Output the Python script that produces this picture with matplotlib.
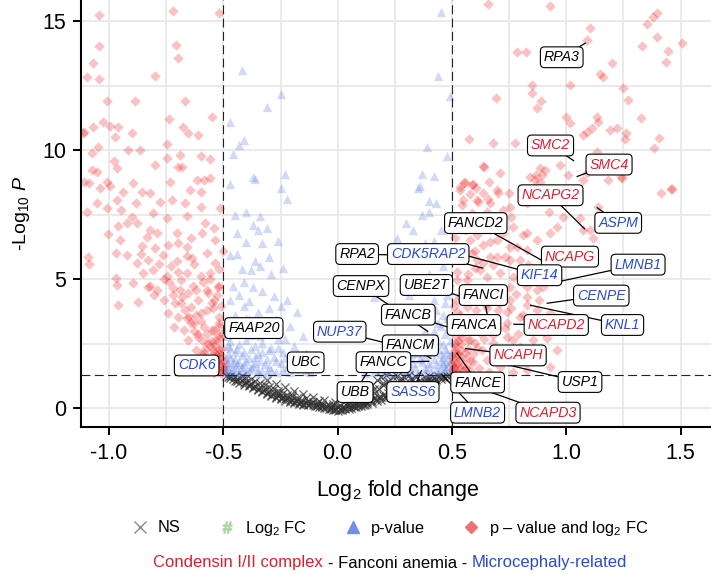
import matplotlib

matplotlib.use("Agg")
import matplotlib.pyplot as plt
from matplotlib.lines import Line2D
from matplotlib.offsetbox import AnchoredOffsetbox, HPacker, TextArea

plt.rcParams["font.family"] = ["Liberation Sans", "DejaVu Sans"]
plt.rcParams["mathtext.fontset"] = "custom"
plt.rcParams["mathtext.rm"] = "Liberation Sans"
plt.rcParams["mathtext.it"] = "Liberation Sans:italic"
plt.rcParams["axes.unicode_minus"] = False

FC_CUTOFF = 0.5
P_CUTOFF = 1.30103  # -log10(0.05)

# not significant (log2FC, -log10 P)
ns_points = [
    (-0.49, 1.27), (-0.48, 1.20), (-0.47, 1.25), (-0.46, 1.12), (-0.45, 1.05), (-0.45, 1.22),
    (-0.44, 1.15), (-0.43, 0.98), (-0.42, 1.08), (-0.42, 1.25), (-0.41, 0.92), (-0.40, 1.02),
    (-0.40, 1.18), (-0.39, 0.85), (-0.38, 0.96), (-0.38, 1.12), (-0.37, 0.78), (-0.36, 0.88),
    (-0.36, 1.05), (-0.35, 0.70), (-0.34, 0.82), (-0.34, 0.98), (-0.33, 0.62), (-0.32, 0.74),
    (-0.32, 0.90), (-0.31, 1.08), (-0.31, 0.55), (-0.30, 0.66), (-0.30, 0.82), (-0.29, 0.48),
    (-0.28, 0.58), (-0.28, 0.74), (-0.27, 0.95), (-0.27, 0.40), (-0.26, 0.51), (-0.26, 0.66),
    (-0.25, 0.35), (-0.24, 0.44), (-0.24, 0.58), (-0.23, 0.82), (-0.23, 0.30), (-0.22, 0.38),
    (-0.22, 0.51), (-0.21, 0.25), (-0.20, 0.33), (-0.20, 0.45), (-0.19, 0.68), (-0.19, 0.21),
    (-0.18, 0.28), (-0.18, 0.40), (-0.17, 0.17), (-0.16, 0.24), (-0.16, 0.34), (-0.15, 0.55),
    (-0.15, 0.14), (-0.14, 0.20), (-0.13, 0.29), (-0.13, 0.11), (-0.12, 0.17), (-0.11, 0.24),
    (-0.11, 0.44), (-0.10, 0.08), (-0.09, 0.14), (-0.09, 0.20), (-0.08, 0.04), (-0.07, 0.10),
    (-0.07, 0.17), (-0.06, 0.34), (-0.06, 0.01), (-0.05, 0.07), (-0.04, -0.04), (-0.04, 0.13),
    (-0.03, 0.03), (-0.02, -0.07), (-0.02, 0.09), (-0.01, 0.25), (-0.01, -0.02), (0.00, -0.10),
    (0.00, 0.05), (0.01, -0.04), (0.01, 0.12), (0.02, -0.08), (0.02, 0.02), (0.03, 0.30),
    (0.03, -0.03), (0.04, 0.07), (0.05, -0.02), (0.05, 0.15), (0.06, 0.03), (0.06, 0.45),
    (0.07, 0.10), (0.07, 0.22), (0.08, 0.05), (0.09, 0.14), (0.09, 0.30), (0.10, 0.09),
    (0.10, 0.60), (0.11, 0.19), (0.11, 0.38), (0.12, 0.13), (0.12, 0.26), (0.13, 0.75),
    (0.13, 0.18), (0.14, 0.32), (0.14, 0.50), (0.15, 0.22), (0.15, 0.92), (0.16, 0.38),
    (0.16, 0.60), (0.17, 0.27), (0.17, 1.10), (0.18, 0.45), (0.18, 0.75), (0.19, 0.33),
    (0.19, 1.22), (0.20, 0.52), (0.20, 0.90), (0.21, 0.38), (0.21, 1.28), (0.22, 0.60),
    (0.22, 1.05), (0.23, 0.44), (0.23, 0.78), (0.24, 1.20), (0.24, 0.50), (0.25, 0.66),
    (0.25, 0.95), (0.26, 0.56), (0.26, 1.27), (0.27, 0.72), (0.27, 1.08), (0.28, 0.62),
    (0.28, 0.88), (0.29, 1.22), (0.29, 0.68), (0.30, 0.80), (0.30, 1.02), (0.31, 0.72),
    (0.31, 1.28), (0.32, 0.90), (0.32, 1.15), (0.33, 0.78), (0.34, 1.00), (0.34, 1.25),
    (0.35, 0.84), (0.36, 1.10), (0.36, 0.95), (0.37, 0.90), (0.38, 1.20), (0.38, 1.02),
    (0.39, 0.96), (0.40, 1.12), (0.40, 1.27), (0.41, 1.02), (0.42, 1.18), (0.43, 1.08),
    (0.44, 1.25), (0.45, 1.14), (0.46, 1.22), (0.47, 1.18), (0.48, 1.27), (0.49, 1.24),
    (-0.47, 1.17), (-0.44, 1.05), (-0.41, 0.98), (-0.39, 0.90), (-0.37, 0.84), (-0.35, 0.76),
    (-0.33, 0.68), (-0.31, 0.60), (-0.29, 0.53), (-0.27, 0.45), (-0.25, 0.40), (-0.23, 0.35),
    (-0.21, 0.30), (-0.19, 0.26), (-0.17, 0.22), (-0.15, 0.18), (-0.13, 0.15), (-0.11, 0.12),
    (-0.09, 0.09), (-0.07, 0.06), (-0.05, 0.02), (-0.03, -0.01), (-0.01, -0.06), (0.01, -0.08),
    (0.03, 0.00), (0.05, 0.04), (0.07, 0.06), (0.09, 0.08), (0.11, 0.13), (0.13, 0.24),
    (0.15, 0.30), (0.17, 0.36), (0.19, 0.42), (0.21, 0.48), (0.23, 0.55), (0.25, 0.60),
    (0.27, 0.66), (0.29, 0.74), (0.31, 0.80), (0.33, 0.86), (0.35, 0.92), (0.37, 0.98),
    (0.39, 1.05), (0.41, 1.10), (0.43, 1.15), (0.45, 1.20), (-0.26, 0.60), (-0.20, 0.50),
    (-0.14, 0.38), (-0.08, 0.27), (-0.02, 0.15), (0.04, 0.20), (0.08, 0.38), (0.12, 0.55),
    (0.16, 0.75), (0.20, 1.00), (0.24, 0.85), (0.28, 1.15), (0.33, 1.10),
]

# significant p-value only
pval_points = [
    (-0.42, 13.1), (-0.25, 12.2), (-0.31, 11.7), (-0.47, 11.1), (-0.41, 10.4), (-0.43, 10.2),
    (-0.46, 9.85), (-0.37, 8.95), (-0.36, 8.9), (-0.23, 9.1), (-0.25, 8.55), (-0.22, 8.1),
    (-0.47, 8.7), (-0.45, 7.5), (-0.40, 7.6), (-0.34, 7.45), (-0.31, 7.0), (-0.37, 7.1),
    (-0.35, 6.9), (-0.44, 6.8), (-0.40, 6.45), (-0.33, 6.4), (-0.26, 6.5), (-0.47, 5.95),
    (-0.44, 6.0), (-0.36, 5.7), (-0.30, 5.85), (-0.42, 5.4), (-0.38, 5.35), (-0.34, 5.5),
    (-0.29, 5.2), (-0.24, 5.45), (-0.46, 4.75), (-0.41, 4.9), (-0.37, 4.7), (-0.33, 4.55),
    (-0.28, 4.35), (-0.22, 4.2), (-0.47, 4.2), (-0.43, 4.4), (-0.39, 4.15), (-0.41, 3.95),
    (-0.35, 3.75), (-0.30, 3.9), (-0.25, 3.95), (-0.18, 3.75), (-0.45, 3.6), (-0.39, 3.45),
    (-0.33, 3.3), (-0.27, 3.45), (-0.21, 3.2), (-0.15, 2.8), (-0.48, 3.1), (-0.44, 2.95),
    (-0.38, 2.85), (-0.31, 2.95), (-0.26, 2.7), (-0.19, 2.4), (-0.14, 2.15), (-0.47, 2.6),
    (-0.43, 2.5), (-0.40, 2.65), (-0.36, 2.4), (-0.33, 2.55), (-0.29, 2.35), (-0.24, 2.2),
    (-0.20, 1.95), (-0.11, 1.9), (-0.08, 1.6), (-0.48, 2.1), (-0.45, 2.2), (-0.42, 2.05),
    (-0.39, 1.95), (-0.35, 2.1), (-0.31, 1.9), (-0.28, 2.0), (-0.25, 1.75), (-0.22, 1.6),
    (-0.17, 1.55), (-0.14, 1.45), (-0.48, 1.6), (-0.46, 1.8), (-0.44, 1.5), (-0.41, 1.7),
    (-0.38, 1.55), (-0.36, 1.75), (-0.33, 1.45), (-0.30, 1.6), (-0.27, 1.4), (-0.49, 1.4),
    (-0.47, 1.35), (-0.43, 1.38), (-0.40, 1.42), (-0.35, 1.35), (-0.31, 1.35), (-0.49, 1.9),
    (-0.47, 2.35), (-0.44, 1.7), (-0.42, 1.6), (-0.49, 1.65), (-0.46, 1.45), (-0.48, 2.4),
    (-0.49, 1.5), (-0.48, 1.75), (-0.47, 2.0), (-0.46, 1.6), (-0.45, 1.9), (-0.44, 2.3),
    (-0.43, 1.8), (-0.42, 1.45), (-0.41, 2.2), (-0.40, 1.85), (-0.39, 1.5), (-0.38, 2.3),
    (-0.37, 1.65), (-0.36, 2.0), (-0.35, 1.5), (-0.34, 1.85), (-0.33, 2.2), (-0.32, 1.7),
    (-0.30, 2.25), (-0.29, 1.5), (-0.27, 1.85), (-0.26, 2.35), (-0.24, 1.5), (-0.23, 1.95),
    (-0.21, 1.4), (-0.19, 1.75), (-0.18, 2.1), (-0.16, 1.65), (-0.13, 1.8), (-0.12, 1.4),
    (-0.49, 2.8), (-0.46, 3.3), (-0.43, 3.1), (-0.40, 3.5), (-0.37, 3.2), (-0.34, 2.8),
    (-0.29, 3.1), (-0.23, 2.7),
    (0.45, 15.35), (0.44, 12.9), (0.49, 12.1), (0.39, 10.15), (0.48, 9.8), (0.37, 9.1),
    (0.42, 9.0), (0.36, 8.6), (0.35, 8.55), (0.40, 8.05), (0.43, 7.95), (0.37, 7.5),
    (0.40, 7.6), (0.45, 6.9), (0.38, 6.4), (0.42, 6.5), (0.47, 6.3), (0.33, 6.9),
    (0.30, 7.2), (0.26, 6.6), (0.46, 5.5), (0.40, 5.2), (0.44, 4.6), (0.49, 4.9),
    (0.31, 4.4), (0.20, 4.9), (0.13, 4.6), (0.16, 4.3), (0.47, 4.1), (0.43, 3.8),
    (0.48, 3.5), (0.45, 3.2), (0.42, 3.0), (0.47, 2.9), (0.49, 2.6), (0.44, 2.6),
    (0.40, 2.5), (0.36, 2.7), (0.33, 2.4), (0.30, 2.6), (0.27, 2.3), (0.24, 2.1),
    (0.47, 2.3), (0.45, 2.1), (0.42, 2.2), (0.38, 2.0), (0.35, 2.15), (0.31, 2.0),
    (0.28, 1.9), (0.25, 1.75), (0.22, 1.6), (0.19, 1.5), (0.48, 1.9), (0.46, 1.75),
    (0.43, 1.7), (0.40, 1.6), (0.37, 1.8), (0.34, 1.55), (0.31, 1.65), (0.28, 1.45),
    (0.49, 1.5), (0.47, 1.45), (0.44, 1.4), (0.41, 1.35), (0.38, 1.4), (0.35, 1.35),
    (0.32, 1.38), (0.25, 1.4), (0.22, 1.35), (0.49, 2.1), (0.48, 1.65), (0.46, 2.5),
    (0.45, 1.55), (0.16, 1.4), (0.12, 1.35),
    (0.49, 1.8), (0.48, 2.2), (0.47, 1.6), (0.46, 2.0), (0.45, 1.85), (0.44, 2.3),
    (0.43, 1.5), (0.42, 1.9), (0.41, 2.45), (0.40, 1.75), (0.39, 2.2), (0.38, 1.55),
    (0.36, 1.9), (0.35, 2.45), (0.33, 1.75), (0.32, 2.1), (0.30, 1.45), (0.29, 2.2),
    (0.27, 1.6), (0.26, 2.0), (0.23, 1.85), (0.21, 1.45), (0.49, 3.1), (0.46, 3.6),
    (0.44, 3.3), (0.48, 4.4), (0.42, 4.2), (0.38, 3.0),
]

# significant p-value and log2FC
both_points = [
    # down
    (-1.044, 15.24), (-0.720, 15.41), (-0.519, 15.31), (-1.044, 14.04), (-1.070, 13.37),
    (-1.095, 12.85), (-1.044, 12.76), (-0.800, 12.90), (-0.707, 14.10), (-0.700, 13.60),
    (-1.010, 11.90), (-0.886, 11.90), (-0.668, 11.90), (-0.551, 11.30), (-0.740, 11.20),
    (-1.113, 10.66), (-1.070, 10.91), (-1.028, 11.10), (-0.996, 10.96), (-0.960, 10.91),
    (-0.900, 10.66), (-1.076, 9.89), (-1.047, 10.14), (-0.974, 10.53), (-0.916, 10.00),
    (-0.865, 10.00), (-0.748, 10.26), (-0.678, 10.89), (-0.653, 10.68), (-0.610, 10.59),
    (-0.689, 9.83), (-0.600, 9.79), (-0.560, 9.65), (-0.799, 9.42), (-0.748, 9.72),
    (-0.700, 9.36), (-0.680, 9.36), (-0.964, 9.30), (-1.076, 9.23), (-1.054, 9.16),
    (-1.086, 8.73), (-1.040, 8.53), (-1.010, 8.79), (-0.996, 8.60), (-0.894, 8.73),
    (-0.858, 8.40), (-0.821, 8.34), (-0.734, 8.79), (-0.617, 8.86), (-0.585, 8.86),
    (-0.557, 8.92), (-0.646, 8.47), (-0.600, 8.40), (-0.938, 8.40), (-1.110, 8.79),
    (-1.095, 7.63), (-1.054, 7.95), (-1.010, 7.76), (-0.967, 8.08), (-0.883, 7.95),
    (-0.777, 8.01), (-0.726, 8.08), (-0.668, 7.95), (-0.600, 7.82), (-0.514, 7.76),
    (-0.806, 7.57), (-0.748, 7.37), (-0.660, 7.44), (-1.006, 6.77), (-0.960, 7.05),
    (-0.923, 7.18), (-0.836, 6.66), (-0.792, 6.79), (-0.704, 6.79), (-0.594, 6.79),
    (-0.535, 6.53), (-0.952, 6.53), (-0.858, 6.30), (-0.741, 6.34), (-0.660, 6.27),
    (-0.970, 6.01), (-1.090, 5.60), (-0.923, 5.95), (-0.880, 5.63), (-0.828, 5.76),
    (-0.763, 5.95), (-0.704, 5.70), (-0.639, 5.82), (-0.573, 6.01), (-0.535, 5.63),
    (-0.850, 5.25), (-0.806, 5.37), (-0.748, 5.12), (-0.660, 5.25), (-0.600, 5.12),
    (-0.557, 5.25), (-0.967, 4.79), (-0.894, 4.86), (-0.821, 4.73), (-0.792, 4.60),
    (-0.719, 4.67), (-0.631, 4.73), (-0.573, 4.60), (-0.520, 4.73), (-0.970, 5.04),
    (-0.875, 4.13), (-0.962, 4.00), (-0.831, 4.71), (-0.802, 4.39), (-0.759, 4.20),
    (-0.722, 4.39), (-0.685, 4.07), (-0.656, 4.46), (-0.612, 4.20), (-0.569, 4.46),
    (-0.540, 4.20), (-0.525, 4.71), (-0.685, 4.97), (-0.744, 3.68), (-0.700, 3.55),
    (-0.642, 3.94), (-0.649, 3.55), (-0.598, 3.68), (-0.547, 3.88), (-0.518, 3.55),
    (-0.715, 3.16), (-0.671, 3.03), (-0.627, 3.29), (-0.584, 3.16), (-0.540, 3.03),
    (-0.520, 3.29), (-0.656, 2.65), (-0.612, 2.78), (-0.569, 2.52), (-0.532, 2.65),
    (-0.620, 2.26), (-0.584, 2.13), (-0.547, 2.26), (-0.518, 2.13), (-0.598, 1.74),
    (-0.562, 1.87), (-0.532, 1.74), (-0.512, 1.70), (-0.554, 1.48), (-0.525, 1.42),
    (-0.510, 1.36), (-1.094, 5.88), (-1.108, 10.72), (-0.505, 1.55), (-0.515, 1.95),
    (-0.530, 2.05), (-0.505, 2.35), (-0.545, 1.62), (-0.560, 2.40), (-0.580, 1.95),
    (-0.525, 2.85), (-0.550, 3.05), (-0.590, 2.60), (-0.600, 3.40), (-0.630, 3.00),
    (-0.660, 3.50), (-0.570, 3.80), (-0.510, 3.95), (-0.620, 4.60), (-0.680, 4.30),
    (-0.740, 4.90), (-0.780, 5.60), (-0.700, 5.30), (-0.860, 6.00), (-0.800, 6.20),
    (-0.900, 7.40), (-0.640, 6.60), (-0.560, 5.00), (-0.520, 5.40), (-0.500, 6.10),
    (-0.540, 7.00), (-0.580, 7.20), (-0.510, 1.45), (-0.540, 1.38), (-0.570, 1.55),
    (-0.500, 1.85), (-0.535, 2.45), (-0.515, 2.70),
    (-0.505, 1.65), (-0.510, 2.05), (-0.520, 2.30), (-0.530, 1.85), (-0.505, 2.90),
    (-0.540, 2.15), (-0.550, 2.60), (-0.560, 1.75), (-0.570, 2.90), (-0.580, 2.30),
    (-0.600, 2.05), (-0.610, 2.90), (-0.620, 3.60), (-0.640, 3.30), (-0.670, 3.80),
    (-0.690, 4.60), (-0.710, 4.10), (-0.730, 5.50), (-0.760, 5.00), (-0.520, 3.20),
    (-0.530, 4.40), (-0.550, 4.10), (-0.590, 4.90), (-0.630, 5.60), (-0.660, 5.90),
    (-0.700, 6.40), (-0.820, 6.90), (-0.880, 7.20), (-0.950, 7.70), (-0.980, 9.60),
    # up
    (0.656, 15.66), (0.929, 15.59), (1.395, 15.31), (1.381, 15.18), (1.352, 14.90),
    (1.104, 14.73), (1.089, 14.28), (1.330, 14.05), (1.395, 14.38), (1.508, 14.15),
    (1.446, 13.86), (1.436, 13.41), (0.783, 13.80), (0.824, 13.82), (1.199, 13.37),
    (1.147, 12.96), (1.162, 12.83), (1.016, 12.53), (0.849, 12.53), (1.249, 12.40),
    (0.692, 12.04), (0.849, 12.21), (0.888, 11.92), (0.873, 11.63), (1.268, 11.95),
    (0.999, 11.28), (1.016, 11.05), (1.133, 11.28), (1.140, 11.11), (1.111, 10.85),
    (1.089, 10.72), (1.191, 10.79), (1.220, 10.88), (1.327, 11.24), (1.261, 10.66),
    (1.074, 10.59), (1.257, 10.43), (1.407, 10.47), (1.384, 10.10), (0.576, 10.43),
    (0.678, 10.29), (0.777, 10.27), (1.133, 9.95), (0.972, 9.43), (0.637, 9.40),
    (0.710, 9.11), (0.885, 9.30), (0.907, 9.24), (0.867, 9.04), (1.089, 9.13),
    (1.184, 8.85), (1.242, 8.91), (0.553, 8.74), (0.593, 8.69), (0.605, 8.55),
    (0.663, 8.76), (0.751, 8.36), (0.841, 8.98), (0.885, 8.78), (0.892, 8.46),
    (1.009, 9.04), (1.461, 8.49), (1.413, 8.33), (0.535, 8.46), (0.557, 8.78),
    (0.640, 9.37), (0.703, 8.33), (0.615, 8.01), (0.656, 8.10), (0.579, 8.31),
    (0.549, 8.07), (0.652, 7.62), (0.586, 7.56), (0.754, 7.81), (0.827, 7.95),
    (0.863, 8.85), (0.892, 9.04), (0.926, 7.62), (0.987, 7.43), (0.958, 7.04),
    (1.060, 7.36), (1.118, 6.59), (1.074, 6.91), (0.929, 6.78), (0.870, 6.52),
    (0.812, 6.72), (0.783, 6.26), (0.724, 6.78), (0.666, 6.46), (0.608, 6.72),
    (0.557, 6.91), (0.542, 6.26), (0.586, 6.01), (0.637, 5.62), (0.695, 5.88),
    (0.754, 5.75), (0.834, 5.55), (1.104, 6.91), (1.074, 8.85), (1.238, 8.98),
    (1.458, 8.50), (1.140, 7.81), (0.534, 8.59), (0.586, 8.66), (0.637, 8.33),
    (0.695, 8.46), (0.608, 8.07), (0.666, 7.95), (0.542, 7.88), (0.724, 7.69),
    (0.520, 7.30), (0.768, 7.04), (0.827, 6.78), (0.513, 6.59), (0.579, 6.52),
    (0.637, 6.33), (0.695, 6.52), (0.754, 6.26), (0.827, 6.14), (0.520, 5.88),
    (0.608, 5.75), (0.666, 5.88), (0.732, 5.88), (0.797, 5.75), (0.520, 5.29),
    (0.622, 5.36), (0.652, 5.10), (0.710, 5.23), (0.768, 5.10), (0.520, 4.97),
    (0.564, 4.97), (0.827, 4.71), (0.856, 4.97), (0.520, 4.20), (0.564, 3.94),
    (0.652, 3.88), (0.710, 4.07), (0.754, 4.20), (0.827, 4.00), (0.870, 3.81),
    (0.520, 3.42), (0.739, 3.29), (0.797, 3.55), (0.870, 3.42), (0.520, 2.78),
    (0.579, 2.65), (0.622, 2.91), (0.681, 2.52), (0.739, 2.78), (0.797, 2.39),
    (0.856, 2.65), (0.513, 2.26), (0.557, 2.13), (0.535, 1.87), (0.593, 1.81),
    (0.652, 1.87), (0.513, 1.61), (0.579, 1.48), (0.710, 1.61), (0.768, 1.42),
    (0.754, 4.71), (0.827, 4.33), (0.870, 4.59), (0.739, 3.74), (0.812, 3.62),
    (0.929, 3.68), (0.987, 3.49), (0.914, 2.71), (0.768, 2.65), (0.958, 2.26),
    (0.929, 1.61), (0.827, 1.48), (0.505, 1.40), (0.510, 1.55), (0.520, 1.75),
    (0.505, 1.95), (0.530, 2.05), (0.515, 2.40), (0.540, 2.50), (0.550, 1.65),
    (0.560, 1.95), (0.570, 2.30), (0.545, 2.75), (0.525, 3.05), (0.560, 3.20),
    (0.590, 2.10), (0.600, 2.55), (0.580, 3.45), (0.620, 1.55), (0.630, 2.25),
    (0.605, 3.80), (0.540, 4.40), (0.580, 4.60), (0.640, 4.35), (0.660, 3.05),
    (0.690, 3.45), (0.700, 2.10), (0.720, 4.55), (0.530, 1.35), (0.550, 1.45),
    (0.510, 2.15), (0.525, 2.60), (0.500, 1.70), (0.535, 3.60), (0.510, 3.95),
    (0.570, 5.20), (0.600, 5.45), (0.680, 5.55), (0.780, 4.45), (0.850, 3.10),
    (0.900, 2.95), (0.660, 1.40), (0.680, 2.85),
    (0.505, 1.50), (0.510, 1.85), (0.520, 2.10), (0.515, 2.55), (0.530, 1.60),
    (0.540, 2.25), (0.550, 2.95), (0.560, 1.55), (0.570, 2.65), (0.580, 1.85),
    (0.600, 3.00), (0.610, 2.35), (0.620, 3.50), (0.640, 2.70), (0.650, 4.00),
    (0.670, 3.30), (0.700, 3.80), (0.730, 3.10), (0.760, 3.90), (0.790, 2.90),
    (0.820, 2.10), (0.860, 2.30), (0.880, 4.20), (0.900, 4.70), (0.950, 5.00),
    (0.600, 6.10), (0.700, 7.20), (0.760, 7.40), (0.500, 2.95), (0.520, 3.75),
]

# labelled genes: name, log2FC, -log10 P, gene set
genes = [
    ("RPA3", 1.086, 14.17, "fanconi"),
    ("SMC2", 1.034, 9.59, "condensin"),
    ("SMC4", 1.045, 8.98, "condensin"),
    ("NCAPG2", 1.082, 6.94, "condensin"),
    ("ASPM", 1.133, 7.79, "microcephaly"),
    ("FANCD2", 0.900, 5.70, "fanconi"),
    ("NCAPG", 1.000, 6.00, "condensin"),
    ("RPA2", 0.270, 5.94, "fanconi"),
    ("CDK5RAP2", 0.637, 5.43, "microcephaly"),
    ("KIF14", 0.447, 6.20, "microcephaly"),
    ("LMNB1", 0.929, 4.84, "microcephaly"),
    ("CENPX", 0.396, 2.97, "fanconi"),
    ("UBE2T", 0.600, 4.15, "fanconi"),
    ("FANCI", 0.655, 3.60, "fanconi"),
    ("CENPE", 0.914, 4.07, "microcephaly"),
    ("FANCB", 0.535, 3.00, "fanconi"),
    ("FANCA", 0.600, 3.25, "fanconi"),
    ("NCAPD2", 0.768, 3.26, "condensin"),
    ("KNL1", 0.841, 4.00, "microcephaly"),
    ("NUP37", 0.250, 2.45, "microcephaly"),
    ("FANCM", 0.410, 1.92, "fanconi"),
    ("FANCC", 0.400, 1.82, "fanconi"),
    ("NCAPH", 0.557, 2.32, "condensin"),
    ("FAAP20", -0.370, 3.10, "fanconi"),
    ("CDK6", -0.600, 1.68, "microcephaly"),
    ("UBC", -0.140, 1.80, "fanconi"),
    ("UBB", 0.127, 1.36, "fanconi"),
    ("SASS6", 0.367, 1.48, "microcephaly"),
    ("FANCE", 0.520, 2.16, "fanconi"),
    ("USP1", 0.746, 1.68, "fanconi"),
    ("LMNB2", 0.455, 1.32, "microcephaly"),
    ("NCAPD3", 0.535, 1.05, "condensin"),
]

# where each repelled label box sits
label_pos = {
    "RPA3": (0.980, 13.61), "SMC2": (0.931, 10.19), "SMC4": (1.187, 9.45),
    "NCAPG2": (0.931, 8.26), "ASPM": (1.227, 7.19), "FANCD2": (0.604, 7.18),
    "NCAPG": (1.016, 5.88), "RPA2": (0.085, 5.98), "CDK5RAP2": (0.396, 5.98),
    "KIF14": (0.883, 5.16), "LMNB1": (1.314, 5.57), "CENPX": (0.102, 4.74),
    "UBE2T": (0.388, 4.78), "FANCI": (0.637, 4.39), "CENPE": (1.153, 4.37),
    "FANCB": (0.309, 3.63), "FANCA": (0.596, 3.23), "NCAPD2": (0.956, 3.23),
    "KNL1": (1.246, 3.23), "NUP37": (0.009, 2.97), "FANCM": (0.318, 2.44),
    "FANCC": (0.200, 1.79), "NCAPH": (0.789, 2.05), "FAAP20": (-0.367, 3.11),
    "CDK6": (-0.617, 1.66), "UBC": (-0.140, 1.78), "UBB": (0.076, 0.63),
    "SASS6": (0.329, 0.63), "FANCE": (0.612, 1.00), "USP1": (1.060, 1.02),
    "LMNB2": (0.612, -0.17), "NCAPD3": (0.920, -0.17),
}

RED = "#D8202F"
BLUE = "#2A4BC8"
set_colors = {"condensin": RED, "fanconi": "black", "microcephaly": BLUE}

fig = plt.figure(figsize=(7.11, 5.74), dpi=100)
ax = fig.add_axes([81 / 711, 1 - 427 / 574, 630 / 711, 427 / 574])


def _xy(points):
    return [p[0] for p in points], [p[1] for p in points]


x, y = _xy(ns_points)
ax.scatter(x, y, marker="x", s=34, linewidths=0.9, color="#2f2f2f", alpha=0.75, zorder=2)
x, y = _xy(pval_points)
ax.scatter(x, y, marker="^", s=45, linewidths=0, color="royalblue", alpha=0.24, zorder=2)
x, y = _xy(both_points)
ax.scatter(x, y, marker="D", s=28, linewidths=0, color="#EE0000", alpha=0.24, zorder=2)

dash = dict(color="#222222", lw=0.8, linestyle=(0, (8, 4)), zorder=3)
ax.axvline(-FC_CUTOFF, **dash)
ax.axvline(FC_CUTOFF, **dash)
ax.axhline(P_CUTOFF, **dash)

for name, gx, gy, gset in genes:
    lx, ly = label_pos[name]
    ax.plot([lx, gx], [ly, gy], color="black", lw=0.9, zorder=4, solid_capstyle="butt")
    ax.text(lx, ly, name, ha="center", va="center", style="italic", fontsize=10.2,
            color=set_colors[gset], zorder=5,
            bbox=dict(boxstyle="round,pad=0.24,rounding_size=0.3", fc="white",
                      ec="black", lw=0.8))

ax.set_xlim(-1.123, 1.633)
ax.set_ylim(-0.725, 15.83)
xt = [-1.0, -0.5, 0.0, 0.5, 1.0, 1.5]
ax.set_xticks(xt)
ax.set_xticklabels([f"{v:.1f}" for v in xt])
ax.set_yticks([0, 5, 10, 15])
ax.set_xticks([-0.75, -0.25, 0.25, 0.75, 1.25], minor=True)
ax.set_yticks([2.5, 7.5, 12.5], minor=True)
ax.grid(True, which="both", color="#E8E8E8", lw=1.3)
ax.set_axisbelow(True)
for side in ("top", "right"):
    ax.spines[side].set_visible(False)
for side in ("left", "bottom"):
    ax.spines[side].set_linewidth(1.5)
ax.tick_params(which="major", length=6, width=1.4, labelsize=15.5)
ax.tick_params(axis="x", pad=5.5)
ax.tick_params(axis="y", pad=4.5)
ax.tick_params(which="minor", length=0)

ax.set_xlabel("Log$_2$ fold change", fontsize=15.5)
ax.set_ylabel(r"-Log$_{10}$ $\mathit{P}$", fontsize=14)
ax.xaxis.set_label_coords(0.502, -0.12)
ax.yaxis.set_label_coords(-0.078, 0.5)

handles = [
    Line2D([], [], ls="", marker="x", ms=8, mew=1.0, color="#8a8a8a"),
    Line2D([], [], ls="", marker=r"$\#$", ms=8, color="#A9D6A0"),
    Line2D([], [], ls="", marker="^", ms=8, color="#6F8FEA"),
    Line2D([], [], ls="", marker="D", ms=6, color="#EF7070"),
]
labels = ["NS", "Log$_2$ FC", "p-value", "p – value and log$_2$ FC"]
fig.legend(handles, labels, loc="center", bbox_to_anchor=(390 / 711, 1 - 528 / 574),
           ncol=4, frameon=False, fontsize=11.8, handlelength=1.0, handletextpad=0.6,
           columnspacing=2.3)

parts = [
    TextArea("Condensin I/II complex", textprops=dict(color=RED, size=12)),
    TextArea("- Fanconi anemia -", textprops=dict(color="black", size=12)),
    TextArea("Microcephaly-related", textprops=dict(color=BLUE, size=12)),
]
caption = HPacker(children=parts, align="baseline", pad=0, sep=3.6)
fig.add_artist(AnchoredOffsetbox(loc="center", child=caption, frameon=False, pad=0,
                                 borderpad=0, bbox_to_anchor=(390 / 711, 1 - 563 / 574),
                                 bbox_transform=fig.transFigure))

fig.savefig("out.png", dpi=100)
plt.close(fig)
